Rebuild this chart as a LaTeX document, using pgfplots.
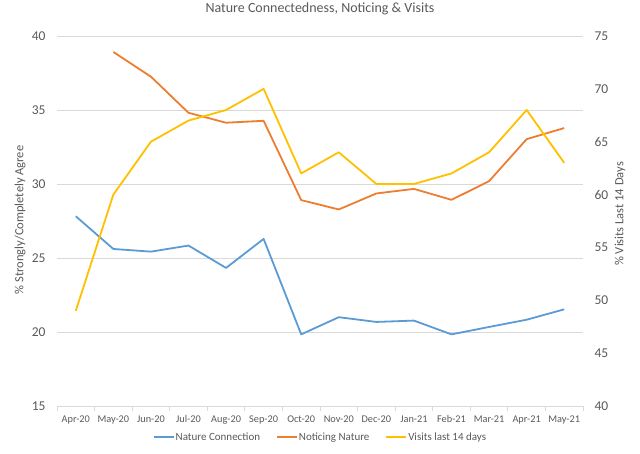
\documentclass[border=0pt]{standalone}
\usepackage{pgfplots}
\pgfplotsset{compat=1.18}
\usepackage{fontspec}
\setmainfont{Carlito}
\definecolor{cblue}{HTML}{5B9BD5}
\definecolor{corange}{HTML}{ED7D31}
\definecolor{cyellow}{HTML}{FFC000}
\definecolor{txt}{HTML}{595959}
\definecolor{gridc}{HTML}{D9D9D9}
\begin{document}
\begin{tikzpicture}
\path[use as bounding box] (-57pt,-48pt) rectangle (583pt,406pt);
\begin{axis}[
  at={(0,0)}, anchor=south west,
  scale only axis, width=526pt, height=370pt,
  xmin=-0.5, xmax=13.5, ymin=15, ymax=40,
  /pgf/number format/assume math mode=true,
  xtick={0,...,13},
  xticklabels={Apr-20,May-20,Jun-20,Jul-20,Aug-20,Sep-20,Oct-20,Nov-20,Dec-20,Jan-21,Feb-21,Mar-21,Apr-21,May-21},
  minor xtick={-0.5,0.5,...,13.5},
  major x tick style={draw=none},
  minor x tick style={draw=gridc, line width=0.8pt},
  minor tick length=5pt,
  xtick align=outside,
  axis x line*=bottom,
  axis y line*=left,
  x axis line style={draw=gridc, line width=0.8pt, -},
  y axis line style={draw=none},
  ytick={15,20,...,40},
  ytick style={draw=none},
  ymajorgrids, grid style={gridc, line width=0.8pt},
  xticklabel style={font=\fontsize{10.3}{12}\selectfont, text=txt, yshift=-2pt},
  yticklabel style={font=\fontsize{13.5}{15}\selectfont, text=txt, xshift=-8pt},
  ylabel={\% Strongly/Completely Agree},
  ylabel style={at={(axis description cs:-0.0703,0.503)}, anchor=center, font=\fontsize{12.5}{14}\selectfont, text=txt},
  title={Nature Connectedness, Noticing \& Visits},
  title style={at={(axis description cs:0.5,1)}, anchor=center, yshift=21pt, font=\fontsize{14}{16}\selectfont, text=txt},
  legend columns=3,
  legend style={at={(axis description cs:0.5,-0.084)}, anchor=center, draw=none, fill=none,
    font=\fontsize{11}{13}\selectfont, text=txt,
    nodes={inner xsep=1pt},
    /tikz/every even column/.append style={column sep=15pt}},
  legend cell align=left,
  legend image code/.code={\draw[line width=1.8pt] (0pt,0pt) -- (20pt,0pt);},
]
\addplot[cblue, line width=1.8pt, line join=round] coordinates {
(0,27.82) (1,25.61) (2,25.43) (3,25.84) (4,24.33) (5,26.29) (6,19.84) (7,21.0) (8,20.68) (9,20.77) (10,19.84) (11,20.34) (12,20.83) (13,21.53)};
\addlegendentry{Nature Connection}
\addplot[corange, line width=1.8pt, line join=round] coordinates {
(1,38.92) (2,37.25) (3,34.81) (4,34.14) (5,34.27) (6,28.91) (7,28.28) (8,29.36) (9,29.67) (10,28.93) (11,30.19) (12,33.03) (13,33.78)};
\addlegendentry{Noticing Nature}
\addlegendimage{cyellow, line width=1.8pt}
\addlegendentry{Visits last 14 days}
\end{axis}
\begin{axis}[
  at={(0,0)}, anchor=south west,
  scale only axis, width=526pt, height=370pt,
  xmin=-0.5, xmax=13.5, ymin=40, ymax=75,
  /pgf/number format/assume math mode=true,
  axis x line=none,
  axis y line*=right,
  y axis line style={draw=none},
  ytick={40,45,...,75},
  ytick style={draw=none},
  yticklabel style={font=\fontsize{13.5}{15}\selectfont, text=txt, xshift=8pt},
  clip=false,
]
\addplot[cyellow, line width=1.8pt, line join=round] coordinates {
(0,49) (1,60) (2,65) (3,67) (4,68) (5,70) (6,62) (7,64) (8,61) (9,61) (10,62) (11,64) (12,68) (13,63)};
\node[rotate=90, anchor=center, font=\fontsize{12.5}{14}\selectfont, text=txt] at (axis description cs:1.0703,0.519) {\% Visits Last 14 Days};
\end{axis}
\end{tikzpicture}
\end{document}
